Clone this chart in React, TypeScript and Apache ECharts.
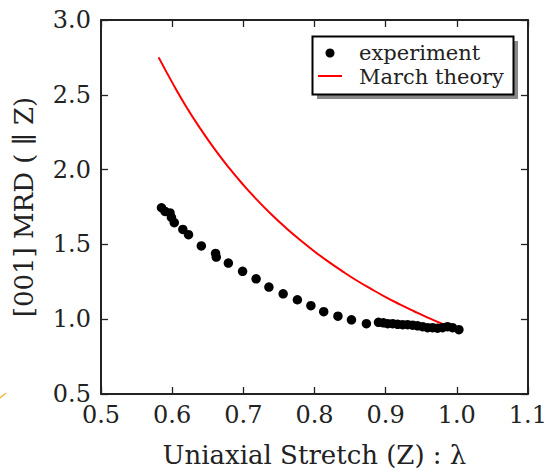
import React, { useEffect, useRef } from "react";
import * as echarts from "echarts";

const xTicks = [0.5, 0.6, 0.7, 0.8, 0.9, 1.0, 1.1];
const yTicks = [0.5, 1.0, 1.5, 2.0, 2.5, 3.0];

const expStretch = [
  0.585, 0.59, 0.597, 0.599, 0.603, 0.615, 0.623, 0.641, 0.661, 0.662, 0.679,
  0.699, 0.718, 0.736, 0.756, 0.776, 0.795, 0.813, 0.833, 0.852, 0.873,
  0.89, 0.897, 0.903, 0.91, 0.917, 0.924, 0.931, 0.938, 0.945, 0.952, 0.959,
  0.966, 0.973, 0.98, 0.987, 0.994, 1.003,
];
const expMRD = [
  1.745, 1.72, 1.71, 1.68, 1.645, 1.6, 1.565, 1.49, 1.44, 1.415, 1.375,
  1.32, 1.27, 1.215, 1.17, 1.13, 1.09, 1.05, 1.02, 0.996, 0.97,
  0.979, 0.976, 0.97, 0.97, 0.966, 0.963, 0.963, 0.96, 0.956, 0.95, 0.943,
  0.943, 0.94, 0.943, 0.95, 0.943, 0.93,
];

const theoryStretch = [
  0.581, 0.6, 0.62, 0.64, 0.66, 0.68, 0.7, 0.72, 0.74, 0.76, 0.78, 0.8, 0.82,
  0.84, 0.86, 0.88, 0.9, 0.92, 0.94, 0.96, 0.98, 1.0,
];
const theoryMRD = [
  2.75, 2.583, 2.419, 2.271, 2.135, 2.011, 1.898, 1.794, 1.698, 1.61, 1.529,
  1.453, 1.383, 1.318, 1.257, 1.201, 1.148, 1.099, 1.053, 1.009, 0.968, 0.93,
];

const FONT = '"DejaVu Serif", "Liberation Serif", serif';
const INK = "#222";

export default function App() {
  const ref = useRef<HTMLDivElement>(null);
  useEffect(() => {
    if (!ref.current) return;
    const chart = echarts.init(ref.current, undefined, { renderer: "svg" });
    const axisCommon = {
      type: "value" as const,
      interval: 0.1,
      axisLine: { show: true, onZero: false, lineStyle: { color: INK, width: 2 } },
      axisTick: { show: true, inside: true, length: 7, lineStyle: { color: INK, width: 1.3 } },
      splitLine: { show: false },
    };
    chart.setOption({
      animation: false,
      textStyle: { fontFamily: FONT },
      grid: { left: 101, top: 20, right: 20, bottom: 75 },
      xAxis: [
        {
          ...axisCommon,
          min: xTicks[0],
          max: xTicks[xTicks.length - 1],
          position: "bottom",
          axisLabel: {
            fontFamily: FONT,
            fontSize: 24,
            color: INK,
            margin: 9,
            formatter: (v: number) => v.toFixed(1),
          },
          name: "Uniaxial Stretch (Z) : λ",
          nameLocation: "middle",
          nameGap: 48,
          nameTextStyle: { fontFamily: FONT, fontSize: 26, color: INK },
        },
        {
          ...axisCommon,
          min: xTicks[0],
          max: xTicks[xTicks.length - 1],
          position: "top",
          axisLabel: { show: false },
        },
      ],
      yAxis: [
        {
          ...axisCommon,
          interval: 0.5,
          min: yTicks[0],
          max: yTicks[yTicks.length - 1],
          position: "left",
          axisLabel: {
            fontFamily: FONT,
            fontSize: 24,
            color: INK,
            margin: 10,
            formatter: (v: number) => v.toFixed(1),
          },
          name: "[001] MRD ( ∥ Z)",
          nameLocation: "middle",
          nameGap: 64,
          nameTextStyle: { fontFamily: FONT, fontSize: 26, color: INK },
        },
        {
          ...axisCommon,
          interval: 0.5,
          min: yTicks[0],
          max: yTicks[yTicks.length - 1],
          position: "right",
          axisLabel: { show: false },
        },
      ],
      series: [
        {
          name: "March theory",
          type: "line",
          data: theoryStretch.map((x, i) => [x, theoryMRD[i]]),
          showSymbol: false,
          smooth: true,
          lineStyle: { color: "#ff0000", width: 2 },
          z: 2,
        },
        {
          name: "experiment",
          type: "scatter",
          data: expStretch.map((x, i) => [x, expMRD[i]]),
          symbolSize: 9.5,
          itemStyle: { color: "#000", opacity: 1 },
          z: 3,
        },
      ],
      graphic: [
        { type: "rect", shape: { x: 317, y: 41, width: 201, height: 58 }, style: { fill: "#888" }, z: 10 },
        { type: "rect", shape: { x: 312.5, y: 36.5, width: 201, height: 58 }, style: { fill: "#fff", stroke: "#000", lineWidth: 2 }, z: 11 },
        { type: "circle", shape: { cx: 330, cy: 53, r: 4.5 }, style: { fill: "#000" }, z: 12 },
        { type: "line", shape: { x1: 318, y1: 76, x2: 342, y2: 76 }, style: { stroke: "#ff0000", lineWidth: 2 }, z: 12 },
        { type: "text", x: 359, y: 53, style: { text: "experiment", font: `21px ${FONT}`, fill: INK, verticalAlign: "middle" }, z: 12 },
        { type: "text", x: 359, y: 77, style: { text: "March theory", font: `21px ${FONT}`, fill: INK, verticalAlign: "middle" }, z: 12 },
        { type: "line", shape: { x1: 0, y1: 398, x2: 6, y2: 393 }, style: { stroke: "#f5b83a", lineWidth: 1.5 }, z: 12 },
      ],
    });
    return () => chart.dispose();
  }, []);
  return <div ref={ref} style={{ width: 550, height: 473, position: "absolute", left: 0, top: 0 }} />;
}
